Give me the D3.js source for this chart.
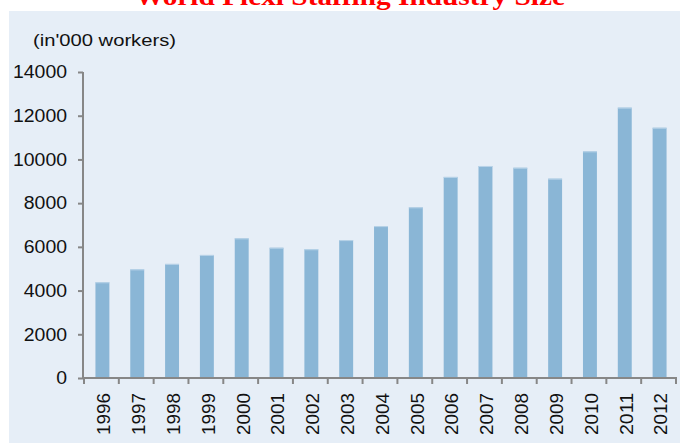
<!DOCTYPE html>
<html>
<head>
<meta charset="utf-8">
<script src="https://cdn.jsdelivr.net/npm/d3@7"></script>
<style>
  html, body { margin: 0; padding: 0; background: #ffffff; }
  svg { display: block; }
</style>
</head>
<body>
<svg id="chart" width="680" height="443"></svg>
<script>
const categories = ["1996","1997","1998","1999","2000","2001","2002","2003","2004","2005","2006","2007","2008","2009","2010","2011","2012"];
const values = [4380, 4970, 5220, 5630, 6390, 5960, 5890, 6310, 6950, 7810, 9200, 9700, 9620, 9120, 10370, 12370, 11450];
const yTicks = [0, 2000, 4000, 6000, 8000, 10000, 12000, 14000];
const titleText = "World Flexi Staffing Industry Size";
const unitText = "(in'000 workers)";

const svg = d3.select("#chart");
const axisColor = "#878787";

// panel background
svg.append("rect").attr("x", 9).attr("y", 11).attr("width", 671).attr("height", 432).attr("fill", "#E6EEF7");

// title (partially cut off at top)
svg.append("text")
  .attr("x", 350).attr("y", 5)
  .attr("text-anchor", "middle")
  .attr("font-family", "'Liberation Serif', 'Times New Roman', serif")
  .attr("font-weight", "bold")
  .attr("font-size", 26)
  .attr("fill", "#FF0000")
  .attr("textLength", 430)
  .attr("lengthAdjust", "spacingAndGlyphs")
  .text(titleText);

// unit label
svg.append("text")
  .attr("x", 33).attr("y", 46)
  .attr("font-family", "'Liberation Sans', Arial, sans-serif")
  .attr("font-size", 17)
  .attr("fill", "#111")
  .attr("textLength", 143)
  .attr("lengthAdjust", "spacingAndGlyphs")
  .text(unitText);

const x = d3.scaleBand().domain(categories).range([84, 676]).paddingInner(0.6).paddingOuter(0.3);
const y = d3.scaleLinear().domain([0, 14000]).range([378, 72]);

// bars
const bars = svg.append("g");
bars.selectAll("rect.bar").data(values).enter().append("rect")
  .attr("class", "bar")
  .attr("x", (d, i) => x(categories[i]) + 1)
  .attr("y", d => y(d))
  .attr("width", x.bandwidth())
  .attr("height", d => y(0) - y(d))
  .attr("fill", "#8AB6D6");
bars.selectAll("line.hl").data(values).enter().append("line")
  .attr("x1", (d, i) => x(categories[i]) + 1)
  .attr("x2", (d, i) => x(categories[i]) + 1 + x.bandwidth())
  .attr("y1", d => y(d) + 0.5).attr("y2", d => y(d) + 0.5)
  .attr("stroke", "#B9D3E8").attr("stroke-width", 1);

// y axis
const yAxis = d3.axisLeft(y).tickValues(yTicks).tickSize(5).tickPadding(11).tickFormat(d3.format("d"));
const yg = svg.append("g").attr("transform", "translate(83,0)").call(yAxis);
yg.select(".domain").attr("stroke", axisColor).attr("stroke-width", 2).attr("d", "M0,72V379");
yg.selectAll(".tick line").attr("stroke", axisColor).attr("stroke-width", 2);
yg.selectAll(".tick text")
  .attr("font-family", "'Liberation Sans', Arial, sans-serif")
  .attr("font-size", 18).attr("fill", "#111")
  .attr("textLength", 54).attr("lengthAdjust", "spacingAndGlyphs")
  .each(function(d) {
    const s = d3.format("d")(d);
    d3.select(this).attr("textLength", s.length * 10.8);
  });

// x axis line and ticks at band boundaries
const xg = svg.append("g");
xg.append("line").attr("x1", 82).attr("x2", 677).attr("y1", 378).attr("y2", 378)
  .attr("stroke", axisColor).attr("stroke-width", 2);
const boundaries = d3.range(categories.length + 1).map(i => x.range()[0] + i * x.step());
xg.selectAll("line.tk").data(boundaries).enter().append("line")
  .attr("x1", d => d).attr("x2", d => d).attr("y1", 378).attr("y2", 384)
  .attr("stroke", axisColor).attr("stroke-width", 2);

// x labels rotated
xg.selectAll("text.xl").data(categories).enter().append("text")
  .attr("transform", d => `translate(${x(d) + x.bandwidth() / 2 + 2},435) rotate(-90)`)
  .attr("dy", "0.36em")
  .attr("font-family", "'Liberation Sans', Arial, sans-serif")
  .attr("font-size", 19).attr("fill", "#111")
  .attr("textLength", 42).attr("lengthAdjust", "spacingAndGlyphs")
  .text(d => d);
</script>
</body>
</html>
